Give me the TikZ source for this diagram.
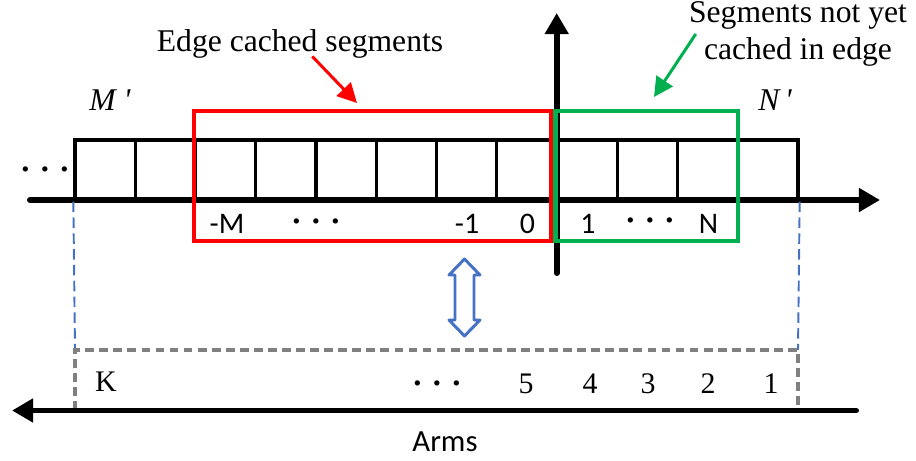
\documentclass[tikz,border=0pt]{standalone}
\usepackage{fontspec}
\setmainfont{Liberation Serif}
\newfontfamily\calibrifont{Carlito}
\usetikzlibrary{arrows.meta, positioning, calc}
\definecolor{cachered}{RGB}{255,0,0}
\definecolor{pendgreen}{RGB}{0,176,80}
\definecolor{linkblue}{RGB}{68,114,196}
\definecolor{armgray}{RGB}{128,128,128}
\newcommand{\segdots}{$\bullet\hspace{5.2pt}\bullet\hspace{5.2pt}\bullet$}

\begin{document}
\begin{tikzpicture}[x=0.02cm, y=-0.02cm,
    cell/.style={rectangle, draw, line width=1.9pt, minimum width=1.205cm, minimum height=1.2cm, inner sep=0pt},
    axis/.style={line width=3.4pt, line cap=round, -{Triangle[length=12pt, width=13pt]}},
    idx/.style={font=\calibrifont\fontsize{17}{19}\selectfont, anchor=base, inner sep=0pt},
    arm/.style={font=\fontsize{17}{20}\selectfont, anchor=base, inner sep=0pt},
    lbl/.style={font=\fontsize{18}{21}\selectfont, align=center, inner sep=0pt},
    dotsep/.style={font=\fontsize{7}{7}\selectfont, inner sep=0pt},
    pointer/.style={line width=1.7pt, -{Triangle[length=11pt, width=11pt]}},
    window/.style={draw, line width=2.5pt, inner sep=0pt}]

  \useasboundingbox (0,0) rectangle (916,460);

  % segment cells on the time axis
  \foreach \i in {1,...,12}
    \node[cell] (c\i) at ({75+60.25*(\i-0.5)},170) {};

  \node[dotsep] (ldots) at (45,170) {\segdots};
  \node[lbl, anchor=base, font=\itshape\fontsize{18}{21}\selectfont] (mprime) at (110,110) {M\ \textquotesingle};
  \node[lbl, anchor=base, font=\itshape\fontsize{18}{21}\selectfont] (nprime) at (775,110) {N\,\textquotesingle};

  \coordinate (xstart) at (30,200);
  \coordinate (xend) at (880,200);
  \coordinate (ystart) at (556.7,273);
  \coordinate (yend) at (556.7,13);
  \draw[axis] (xstart) -- (xend);
  \draw[axis] (ystart) -- (yend);

  % cached / not cached windows
  \node[window, draw=cachered, minimum width=7.15cm, minimum height=2.6cm] (cached) at (372.8,176) {};
  \node[window, draw=pendgreen, minimum width=3.66cm, minimum height=2.6cm] (pending) at (646.8,176) {};

  \node[idx] (im) at (227,233) {-M};
  \node[dotsep] (mdots) at (316,222) {\segdots};
  \node[idx] (i1m) at (467,233) {-1};
  \node[idx] (i0) at (527.5,233) {0};
  \node[idx] (i1) at (588,233) {1};
  \node[dotsep] (ndots) at (650,221) {\segdots};
  \node[idx] (in) at (708.5,233) {N};

  \node[lbl, anchor=base] (edgelbl) at (300,51) {Edge cached segments};
  \node[lbl] (pendlbl) at (798,34) {Segments not yet\\cached in edge};
  \coordinate (redtip) at (357,103);
  \coordinate (greentip) at (654,97);
  \draw[pointer, cachered] ([xshift=7pt, yshift=1pt]edgelbl.south) -- (redtip);
  \draw[pointer, pendgreen] ([xshift=4pt]pendlbl.west) -- (greentip);

  % projection onto the arms
  \coordinate (lproj) at (75,350);
  \coordinate (rproj) at (798,350);
  \draw[linkblue, line width=1.1pt, dash pattern=on 6pt off 3pt] (c1.south west) -- (lproj);
  \draw[linkblue, line width=1.1pt, dash pattern=on 6pt off 3pt] (c12.south east) -- (rproj);
  \draw[armgray, line width=1.8pt, dash pattern=on 5pt off 3pt] (75,410) -- (lproj) -- (rproj) -- (798,410);

  \draw[linkblue, fill=white, line width=1.7pt, line join=round]
    (464.5,259) -- (480,275) -- (474,275) -- (474,320) -- (480,320) -- (464.5,336)
    -- (449,320) -- (455,320) -- (455,275) -- (449,275) -- cycle;

  \coordinate (astart) at (856,410.5);
  \coordinate (aend) at (12,410.5);
  \draw[axis] (astart) -- (aend);

  \node[arm] (k) at (106,391) {K};
  \node[dotsep] (kdots) at (437,384) {\segdots};
  \foreach \n/\x in {5/526, 4/590, 3/648, 2/708, 1/771}
    \node[arm] (a\n) at (\x,393) {\n};

  \node[idx, font=\calibrifont\fontsize{17.5}{20}\selectfont] (arms) at (445,451) {Arms};
\end{tikzpicture}
\end{document}
